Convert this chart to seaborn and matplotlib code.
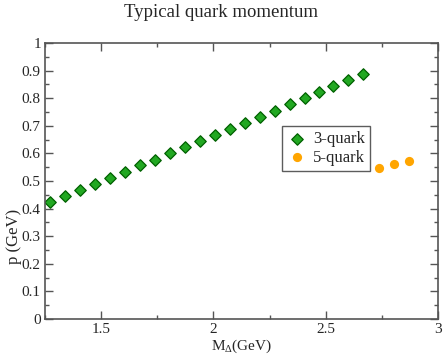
import pandas as pd
import matplotlib
matplotlib.use("Agg")
import matplotlib.pyplot as plt
import seaborn as sns
from matplotlib.ticker import MultipleLocator

# 3-quark points
m3 = [1.272, 1.339, 1.406, 1.472, 1.539, 1.606, 1.672, 1.739, 1.806, 1.872, 1.939,
      2.006, 2.072, 2.139, 2.206, 2.272, 2.339, 2.406, 2.468, 2.534, 2.601, 2.668]
p3 = [0.424, 0.446, 0.467, 0.490, 0.512, 0.533, 0.557, 0.577, 0.600, 0.622, 0.645,
      0.667, 0.688, 0.711, 0.733, 0.755, 0.778, 0.799, 0.823, 0.844, 0.866, 0.888]

# 5-quark points
m5 = [2.736, 2.802, 2.869]
p5 = [0.546, 0.560, 0.573]

df3 = pd.DataFrame({"M": m3, "p": p3})
df5 = pd.DataFrame({"M": m5, "p": p5})

sns.set_style("ticks")
plt.rcParams["font.family"] = ["Liberation Serif", "DejaVu Serif"]
plt.rcParams["mathtext.fontset"] = "custom"
plt.rcParams["mathtext.rm"] = "Liberation Serif"
plt.rcParams["mathtext.it"] = "Liberation Serif:italic"

fig = plt.figure(figsize=(4.43, 3.57), dpi=100)
ax = fig.add_axes([45 / 443, 1 - 319 / 357, 393 / 443, 276 / 357])

sns.scatterplot(data=df3, x="M", y="p", ax=ax, marker="D", s=34,
                color="#22a822", edgecolor="#006000", linewidth=0.9, label="3-quark")
sns.scatterplot(data=df5, x="M", y="p", ax=ax, marker="o", s=44,
                color="#ffa500", edgecolor="#ffa500", linewidth=0, label="5-quark")

ax.set_xlim(1.25, 3)
ax.set_ylim(0, 1)
ax.xaxis.set_major_locator(MultipleLocator(0.5))
ax.xaxis.set_minor_locator(MultipleLocator(0.25))
ax.yaxis.set_major_locator(MultipleLocator(0.1))
ax.yaxis.set_minor_locator(MultipleLocator(0.05))
ax.set_xticks([1.5, 2, 2.5, 3])
ax.set_xticklabels(["1.5", "2", "2.5", "3"])
ax.set_yticks([i / 10 for i in range(11)])
ax.set_yticklabels(["0", "0.1", "0.2", "0.3", "0.4", "0.5", "0.6", "0.7", "0.8", "0.9", "1"])
ax.tick_params(which="both", direction="in", top=True, right=True,
               labelsize=11, color="#555555", pad=3)
ax.tick_params(which="major", length=6, width=1)
ax.tick_params(which="minor", length=3, width=1)
for sp in ax.spines.values():
    sp.set_color("#555555")
    sp.set_linewidth(1.2)

ax.set_xlabel(r"M$_\Delta$(GeV)", fontsize=11, labelpad=1)
ax.set_ylabel("p (GeV)", fontsize=12)
ax.yaxis.set_label_coords(-0.058, 0.3)
fig.suptitle("Typical quark momentum", fontsize=13.5, y=0.988)

leg = ax.legend(loc="upper left", bbox_to_anchor=(0.602, 0.699), borderaxespad=0,
                fontsize=12, frameon=True, fancybox=False, handletextpad=0.3,
                borderpad=0.3, labelspacing=0.15, handlelength=1.3)
leg.get_frame().set_edgecolor("#333333")
leg.get_frame().set_linewidth(1)

fig.savefig("out.png", dpi=100)
